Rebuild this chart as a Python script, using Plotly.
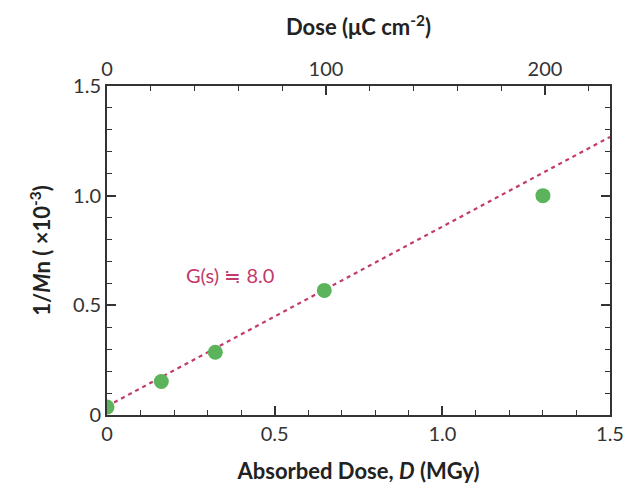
import plotly.graph_objects as go

# Data
dose_uC = [0, 25, 50, 100, 200]               # μC cm^-2
absorbed_MGy = [0.0, 0.162, 0.323, 0.648, 1.30]  # MGy
inv_Mn = [0.036, 0.153, 0.286, 0.568, 1.0]       # 1/Mn (x10^-3)
fit_x = [0.0, 1.5]
fit_y = [0.040, 1.268]
top_range = [0, 229.7]
x_ticks = [0, 0.5, 1.0, 1.5]
x_ticktext = ["0", "0.5", "1.0", "1.5"]
y_ticks = [0, 0.5, 1.0, 1.5]
y_ticktext = ["0", "0.5", "1.0", "1.5"]
top_ticks = [0, 100, 200]

FONT = "Lato"
tick_font = dict(family=FONT, size=20, color="#333333")
title_font = dict(family=FONT, size=22, color="#222222")
line_col = "#C23A6B"
pt_col = "#5BB35B"

fig = go.Figure()
fig.add_trace(go.Scatter(x=fit_x, y=fit_y, mode="lines",
                         line=dict(color=line_col, width=2.2, dash="4px,4px"),
                         showlegend=False, hoverinfo="skip"))
fig.add_trace(go.Scatter(x=absorbed_MGy, y=inv_Mn, mode="markers",
                         marker=dict(color=pt_col, size=15),
                         showlegend=False))
fig.add_trace(go.Scatter(x=dose_uC, y=inv_Mn, xaxis="x2", yaxis="y",
                         mode="markers", marker=dict(opacity=0),
                         showlegend=False, hoverinfo="skip"))

fig.add_annotation(x=0.23, y=0.64, xref="x", yref="y", text="G(s) ≒ 8.0",
                   showarrow=False, xanchor="left",
                   font=dict(family=FONT, size=20, color=line_col))

fig.update_layout(
    width=626, height=484,
    margin=dict(l=107, r=16, t=86, b=69),
    plot_bgcolor="white", paper_bgcolor="white",
    xaxis=dict(range=[0, 1.5], tickvals=x_ticks, ticktext=x_ticktext, automargin=False,
               ticks="inside", ticklen=9, tickwidth=1.5, tickcolor="#333",
               showline=True, linecolor="#333", linewidth=2, mirror=False,
               showgrid=False, zeroline=False, tickfont=tick_font,
               minor=dict(dtick=0.1, ticks="inside", ticklen=5, tickwidth=1.2, tickcolor="#333", showgrid=False),
               title=dict(text="<b>Absorbed Dose, <i>D</i> (MGy)</b>", font=title_font, standoff=22)),
    xaxis2=dict(overlaying="x", side="top", range=top_range, tickvals=top_ticks, automargin=False,
                ticks="inside", ticklen=9, tickwidth=1.5, tickcolor="#333",
                showline=True, linecolor="#333", linewidth=2,
                showgrid=False, zeroline=False, tickfont=tick_font,
                minor=dict(dtick=20, ticks="inside", ticklen=5, tickwidth=1.2, tickcolor="#333", showgrid=False),
                title=dict(text="<b>Dose (μC cm<sup>-2</sup>)</b>", font=title_font, standoff=14)),
    yaxis=dict(range=[0, 1.5], tickvals=y_ticks, ticktext=y_ticktext, automargin=False,
               ticks="inside", ticklen=9, tickwidth=1.5, tickcolor="#333",
               showline=True, linecolor="#333", linewidth=2, mirror="ticks",
               showgrid=False, zeroline=False, tickfont=tick_font,
               minor=dict(dtick=0.1, ticks="inside", ticklen=5, tickwidth=1.2, tickcolor="#333", showgrid=False),
               title=dict(text="<b>1/<i>M</i>n ( ×10<sup>-3</sup>)</b>", font=title_font, standoff=16)),
)

fig.write_html("out.html")
